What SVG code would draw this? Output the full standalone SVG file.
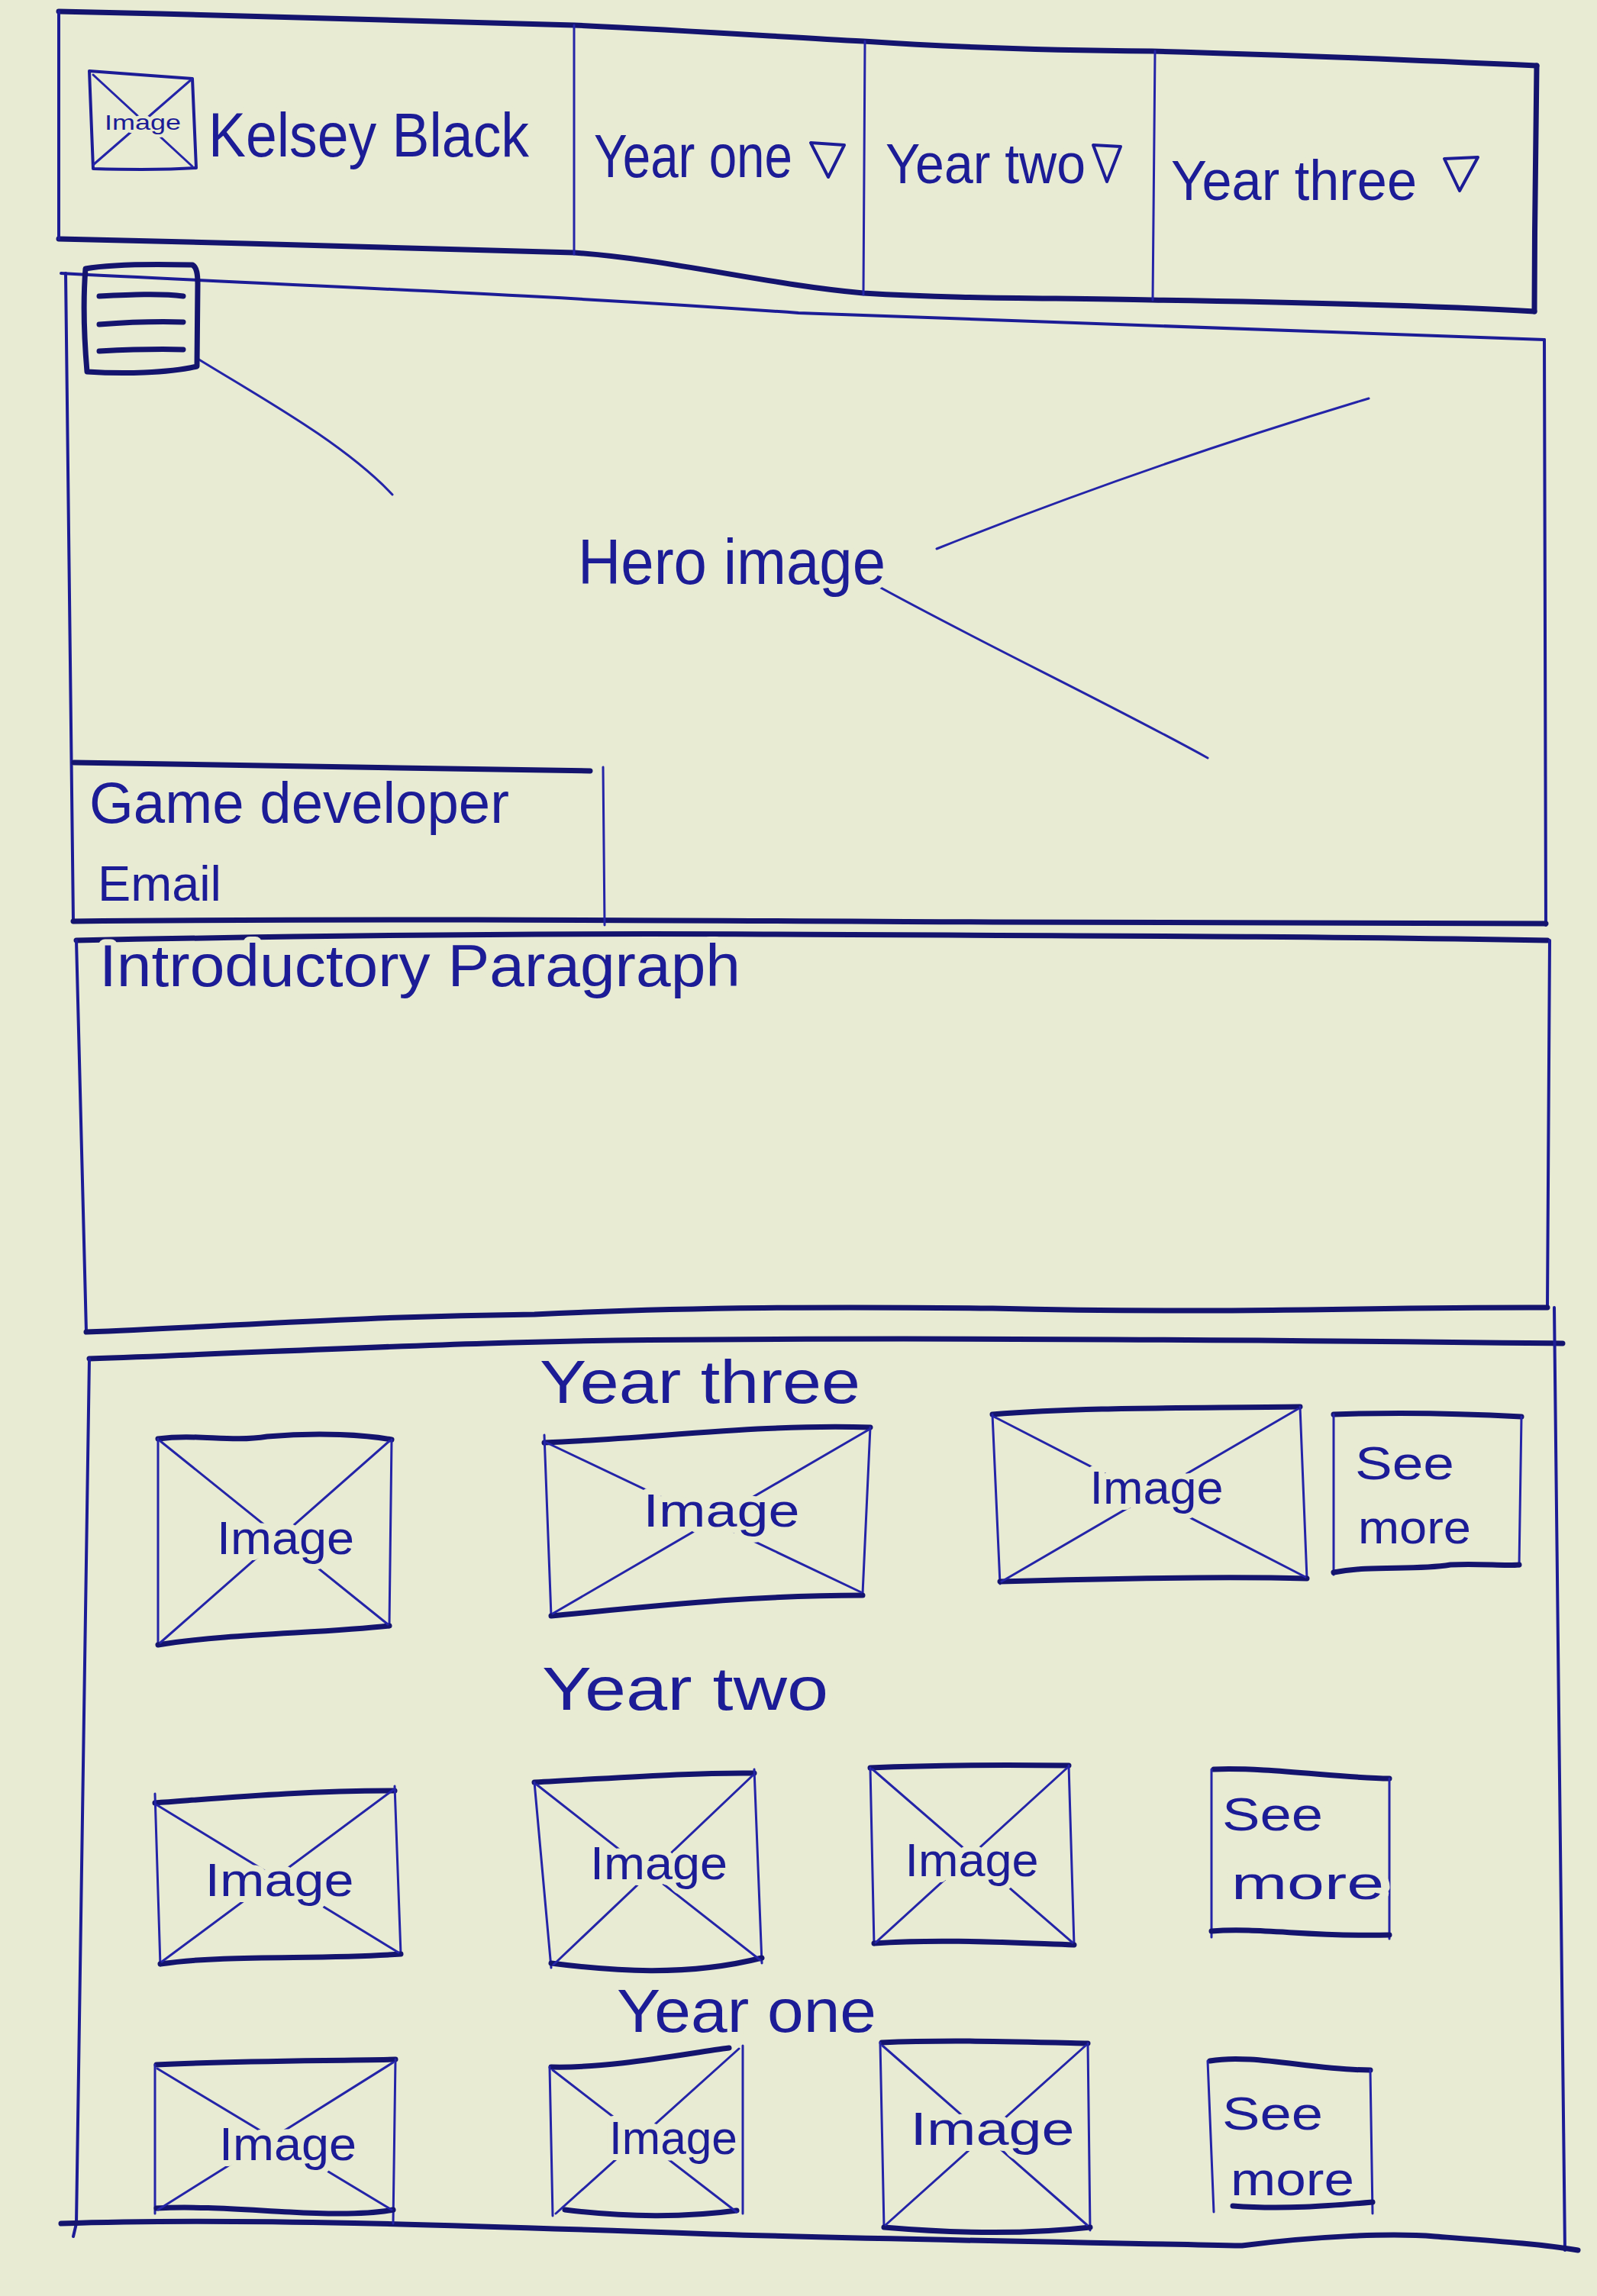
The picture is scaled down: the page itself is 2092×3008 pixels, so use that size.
<svg xmlns="http://www.w3.org/2000/svg" width="2092" height="3008" viewBox="0 0 2092 3008">
  <style>
    .ink{fill:none;stroke:#1c1c96;stroke-width:4;stroke-linecap:round;stroke-linejoin:round}
    .thin{fill:none;stroke:#2424a8;stroke-width:3;stroke-linecap:round;stroke-linejoin:round}
    .thick{fill:none;stroke:#14146e;stroke-width:7;stroke-linecap:round;stroke-linejoin:round}
    .hand{fill:#1c1c96;font-family:"Liberation Sans","DejaVu Sans",sans-serif;stroke:#e8ebd3;stroke-width:16;paint-order:stroke;stroke-linejoin:round}
    .lbl{font-size:62px}
  </style>
  <rect x="0" y="0" width="2092" height="3008" fill="#e8ebd3"/>

  <!-- header bar -->
  <g id="header">
    <path class="thick" d="M77,15 C300,20 520,26 752,33 C900,40 1020,48 1131,54 C1250,62 1380,66 1509,67 C1700,72 1880,80 2013,86"/>
    <path class="thick" d="M77,313 C300,318 560,325 752,331 C880,340 1000,372 1131,384 C1260,392 1380,390 1509,393 C1700,396 1880,400 2010,408"/>
    <path class="ink" d="M77,15 L77,313"/>
    <path class="thick" d="M2013,86 C2012,180 2010,300 2010,408"/>
    <path class="thin" d="M752,33 L752,333"/>
    <path class="thin" d="M1133,54 L1131,386"/>
    <path class="thin" d="M1513,67 L1510,393"/>
  </g>

  <g id="logo">
    <path class="ink" d="M117,93 C160,96 210,100 252,103 L257,220 C210,223 160,222 122,221 Z"/>
    <path class="thin" d="M122,98 L252,218 M252,103 L122,216"/>
    <text class="hand" x="187" y="170" font-size="28" text-anchor="middle" textLength="100" lengthAdjust="spacingAndGlyphs" style="stroke-width:8">Image</text>
  </g>
  <g id="name">
    <text class="hand" x="273" y="205" font-size="82" textLength="420" lengthAdjust="spacingAndGlyphs">Kelsey Black</text>
  </g>
  <g id="nav-year-one">
    <text class="hand" x="778" y="232" font-size="80" textLength="260" lengthAdjust="spacingAndGlyphs">Year one</text>
    <path class="ink" d="M1062,187 L1106,190 L1085,232 Z"/>
  </g>
  <g id="nav-year-two">
    <text class="hand" x="1160" y="240" font-size="74" textLength="262" lengthAdjust="spacingAndGlyphs">Year two</text>
    <path class="ink" d="M1432,190 L1468,192 L1450,238 Z"/>
  </g>
  <g id="nav-year-three">
    <text class="hand" x="1534" y="262" font-size="74" textLength="322" lengthAdjust="spacingAndGlyphs">Year three</text>
    <path class="ink" d="M1892,208 L1936,206 L1912,250 Z"/>
  </g>

  <!-- hero section -->
  <g id="hero">
    <path class="ink" d="M80,358 C400,375 700,385 1046,410 C1400,425 1750,438 2023,445"/>
    <path class="ink" d="M86,358 L96,1207"/>
    <path class="ink" d="M2023,445 L2025,1212"/>
    <path class="thick" d="M96,1207 C500,1203 900,1206 1300,1208 C1600,1208 1850,1210 2025,1210"/>
    <path class="thin" d="M259,470 C340,520 450,580 514,648"/>
    <path class="thin" d="M1227,719 C1400,650 1600,580 1793,522"/>
    <path class="thin" d="M1141,763 C1280,840 1450,920 1582,993"/>
    <text class="hand" x="757" y="765" font-size="84" textLength="403" lengthAdjust="spacingAndGlyphs">Hero image</text>
  </g>
  <g id="menu-icon">
    <path class="thick" d="M112,352 C150,345 210,346 252,347 C258,350 259,360 259,372 L258,480 C220,489 160,490 114,487 C110,440 109,390 112,352 Z"/>
    <path class="thick" d="M130,388 C170,386 210,384 240,388"/>
    <path class="thick" d="M130,425 C170,422 210,421 240,422"/>
    <path class="thick" d="M130,460 C170,458 210,457 240,458"/>
  </g>
  <g id="profile">
    <path class="thick" d="M97,999 C300,1003 550,1006 773,1010"/>
    <path class="thin" d="M790,1005 L792,1212"/>
    <text class="hand" x="117" y="1078" font-size="76" textLength="550" lengthAdjust="spacingAndGlyphs">Game developer</text>
    <text class="hand" x="128" y="1180" font-size="64" textLength="162" lengthAdjust="spacingAndGlyphs">Email</text>
  </g>

  <!-- introduction -->
  <g id="intro">
    <path class="thick" d="M100,1232 C400,1226 700,1222 1000,1224 C1400,1226 1700,1226 2027,1232"/>
    <path class="ink" d="M100,1232 L113,1745"/>
    <path class="ink" d="M2030,1232 L2027,1713"/>
    <path class="thick" d="M113,1745 C300,1738 450,1725 700,1722 C900,1712 1100,1712 1300,1714 C1600,1722 1800,1712 2027,1713"/>
    <text class="hand" x="130" y="1292" font-size="78" textLength="840" lengthAdjust="spacingAndGlyphs">Introductory Paragraph</text>
  </g>

  <!-- portfolio section -->
  <g id="portfolio">
    <path class="thick" d="M117,1780 C400,1770 650,1755 933,1755 C1300,1752 1700,1756 2047,1760"/>
    <path class="ink" d="M117,1780 C112,2200 104,2600 100,2913 L96,2930"/>
    <path class="ink" d="M2036,1713 C2040,2200 2046,2600 2050,2948"/>
    <path class="thick" d="M80,2913 C300,2905 600,2915 933,2927 C1200,2935 1450,2938 1627,2942 C1720,2930 1820,2925 1880,2930 C1960,2936 2020,2940 2067,2948"/>
  </g>

  <g id="title-year-three">
    <text class="hand" x="707" y="1838" font-size="80" textLength="420" lengthAdjust="spacingAndGlyphs">Year three</text>
  </g>
  <g id="y3-img1">
    <path class="thick" d="M207,1885 C260,1878 300,1890 350,1882 C420,1876 480,1880 513,1886"/>
    <path class="thin" d="M207,1885 L207,2155 M513,1886 L510,2130"/>
    <path class="thick" d="M207,2155 C300,2140 420,2140 510,2130"/>
    <path class="thin" d="M210,1888 L508,2128 M510,1888 L210,2152"/>
    <text class="hand lbl" x="374" y="2036" text-anchor="middle" textLength="180" lengthAdjust="spacingAndGlyphs">Image</text>
  </g>
  <g id="y3-img2">
    <path class="thick" d="M713,1890 C850,1885 1000,1865 1140,1870"/>
    <path class="thin" d="M713,1880 L722,2117 M1140,1870 L1130,2088"/>
    <path class="thick" d="M722,2117 C850,2105 980,2090 1130,2090"/>
    <path class="thin" d="M716,1890 L1128,2086 M1138,1873 L724,2114"/>
    <text class="hand lbl" x="945" y="2000" text-anchor="middle" textLength="205" lengthAdjust="spacingAndGlyphs">Image</text>
  </g>
  <g id="y3-img3">
    <path class="thick" d="M1300,1853 C1420,1843 1560,1845 1703,1843"/>
    <path class="thin" d="M1300,1853 L1310,2075 M1703,1843 L1712,2068"/>
    <path class="thick" d="M1310,2072 C1450,2068 1600,2065 1712,2068"/>
    <path class="thin" d="M1302,1856 L1710,2066 M1700,1846 L1312,2072"/>
    <text class="hand lbl" x="1515" y="1970" text-anchor="middle" textLength="175" lengthAdjust="spacingAndGlyphs">Image</text>
  </g>
  <g id="y3-more">
    <path class="thick" d="M1747,1853 C1830,1850 1920,1852 1993,1856"/>
    <path class="thin" d="M1747,1853 L1747,2063 M1993,1856 L1990,2052"/>
    <path class="thick" d="M1747,2060 C1800,2050 1850,2058 1900,2050 C1940,2048 1970,2052 1990,2050"/>
    <text class="hand lbl" x="1840" y="1938" text-anchor="middle" textLength="130" lengthAdjust="spacingAndGlyphs">See</text>
    <text class="hand lbl" x="1853" y="2022" text-anchor="middle" textLength="148" lengthAdjust="spacingAndGlyphs">more</text>
  </g>

  <g id="title-year-two">
    <text class="hand" x="710" y="2240" font-size="80" textLength="375" lengthAdjust="spacingAndGlyphs">Year two</text>
  </g>
  <g id="y2-img1">
    <path class="thick" d="M203,2362 C300,2355 400,2346 517,2346"/>
    <path class="thin" d="M203,2350 L210,2575 M517,2340 L525,2560"/>
    <path class="thick" d="M210,2573 C300,2560 420,2568 525,2560"/>
    <path class="thin" d="M206,2365 L522,2558 M515,2345 L212,2570"/>
    <text class="hand lbl" x="366" y="2484" text-anchor="middle" textLength="195" lengthAdjust="spacingAndGlyphs">Image</text>
  </g>
  <g id="y2-img2">
    <path class="thick" d="M700,2335 C800,2330 900,2322 988,2323"/>
    <path class="thin" d="M700,2335 L722,2578 M988,2318 L998,2572"/>
    <path class="thick" d="M722,2572 C800,2582 900,2590 998,2565"/>
    <path class="thin" d="M703,2338 L996,2568 M986,2326 L725,2574"/>
    <text class="hand lbl" x="863" y="2462" text-anchor="middle" textLength="180" lengthAdjust="spacingAndGlyphs">Image</text>
  </g>
  <g id="y2-img3">
    <path class="thick" d="M1140,2316 C1230,2312 1320,2312 1400,2313"/>
    <path class="thin" d="M1140,2316 L1145,2548 M1400,2313 L1407,2548"/>
    <path class="thick" d="M1145,2546 C1230,2540 1320,2545 1407,2548"/>
    <path class="thin" d="M1143,2318 L1405,2545 M1398,2316 L1147,2545"/>
    <text class="hand lbl" x="1273" y="2458" text-anchor="middle" textLength="175" lengthAdjust="spacingAndGlyphs">Image</text>
  </g>
  <g id="y2-more">
    <path class="thick" d="M1590,2318 C1660,2315 1760,2330 1820,2330"/>
    <path class="thin" d="M1587,2318 L1587,2538 M1820,2330 L1820,2540"/>
    <path class="thick" d="M1587,2530 C1650,2525 1720,2538 1820,2535"/>
    <text class="hand lbl" x="1667" y="2398" text-anchor="middle" textLength="132" lengthAdjust="spacingAndGlyphs">See</text>
    <text class="hand lbl" x="1713" y="2488" text-anchor="middle" textLength="200" lengthAdjust="spacingAndGlyphs">more</text>
  </g>

  <g id="title-year-one">
    <text class="hand" x="808" y="2662" font-size="80" textLength="340" lengthAdjust="spacingAndGlyphs">Year one</text>
  </g>
  <g id="y1-img1">
    <path class="thick" d="M205,2705 C300,2700 420,2700 518,2698"/>
    <path class="thin" d="M203,2705 L203,2900 M518,2698 L515,2913"/>
    <path class="thick" d="M205,2893 C260,2890 320,2895 380,2898 C450,2902 490,2900 515,2895"/>
    <path class="thin" d="M206,2710 L513,2895 M515,2702 L207,2895"/>
    <text class="hand lbl" x="377" y="2830" text-anchor="middle" textLength="180" lengthAdjust="spacingAndGlyphs">Image</text>
  </g>
  <g id="y1-img2">
    <path class="thick" d="M722,2708 C800,2710 900,2690 955,2683"/>
    <path class="thin" d="M720,2708 L724,2903 M973,2680 L973,2900"/>
    <path class="thick" d="M740,2895 C820,2905 900,2905 965,2896"/>
    <path class="thin" d="M724,2712 L965,2898 M968,2684 L728,2900"/>
    <text class="hand lbl" x="882" y="2822" text-anchor="middle" textLength="168" lengthAdjust="spacingAndGlyphs">Image</text>
  </g>
  <g id="y1-img3">
    <path class="thick" d="M1155,2676 C1240,2672 1340,2675 1425,2677"/>
    <path class="thin" d="M1153,2676 L1158,2918 M1425,2677 L1428,2922"/>
    <path class="thick" d="M1158,2918 C1240,2925 1340,2928 1428,2918"/>
    <path class="thin" d="M1156,2680 L1424,2915 M1422,2680 L1160,2915"/>
    <text class="hand lbl" x="1300" y="2810" text-anchor="middle" textLength="215" lengthAdjust="spacingAndGlyphs">Image</text>
  </g>
  <g id="y1-more">
    <path class="thick" d="M1585,2700 C1640,2690 1720,2712 1795,2712"/>
    <path class="thin" d="M1582,2700 L1590,2898 M1795,2712 L1798,2900"/>
    <path class="thick" d="M1615,2890 C1680,2895 1740,2890 1798,2885"/>
    <text class="hand lbl" x="1667" y="2790" text-anchor="middle" textLength="132" lengthAdjust="spacingAndGlyphs">See</text>
    <text class="hand lbl" x="1693" y="2876" text-anchor="middle" textLength="162" lengthAdjust="spacingAndGlyphs">more</text>
  </g>
</svg>
